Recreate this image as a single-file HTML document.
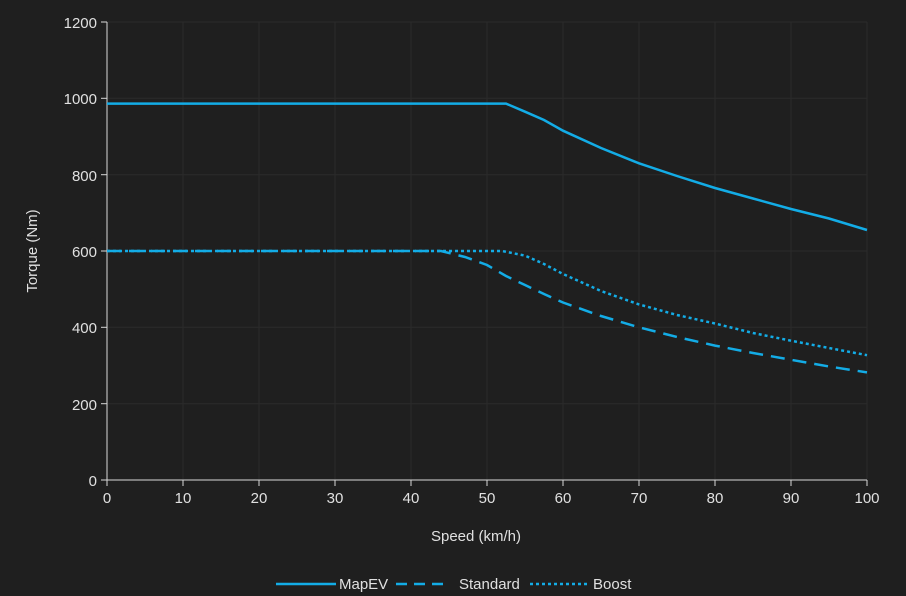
<!DOCTYPE html><html><head><style>body{margin:0;background:#1f1f1f}svg{display:block}text{font-family:"Liberation Sans",sans-serif;fill:#e0e0e0;font-size:15px}</style></head><body>
<svg width="906" height="596" viewBox="0 0 906 596">
<rect width="906" height="596" fill="#1f1f1f"/>
<g stroke="#2b2b2b" stroke-width="1">
<line x1="107" x2="867" y1="22" y2="22"/><line x1="107" x2="867" y1="98.3" y2="98.3"/><line x1="107" x2="867" y1="174.7" y2="174.7"/><line x1="107" x2="867" y1="251" y2="251"/><line x1="107" x2="867" y1="327.3" y2="327.3"/><line x1="107" x2="867" y1="403.7" y2="403.7"/>
<line x1="183" x2="183" y1="22" y2="480"/><line x1="259" x2="259" y1="22" y2="480"/><line x1="335" x2="335" y1="22" y2="480"/><line x1="411" x2="411" y1="22" y2="480"/><line x1="487" x2="487" y1="22" y2="480"/><line x1="563" x2="563" y1="22" y2="480"/><line x1="639" x2="639" y1="22" y2="480"/><line x1="715" x2="715" y1="22" y2="480"/><line x1="791" x2="791" y1="22" y2="480"/><line x1="867" x2="867" y1="22" y2="480"/>
</g>
<g stroke="#d8d8d8" stroke-width="1">
<line x1="107" x2="107" y1="22" y2="480"/><line x1="107" x2="867" y1="480" y2="480"/>
<line x1="101" x2="107" y1="22" y2="22"/><line x1="101" x2="107" y1="98.3" y2="98.3"/><line x1="101" x2="107" y1="174.7" y2="174.7"/><line x1="101" x2="107" y1="251" y2="251"/><line x1="101" x2="107" y1="327.3" y2="327.3"/><line x1="101" x2="107" y1="403.7" y2="403.7"/><line x1="101" x2="107" y1="480" y2="480"/>
<line x1="107" x2="107" y1="480" y2="486"/><line x1="183" x2="183" y1="480" y2="486"/><line x1="259" x2="259" y1="480" y2="486"/><line x1="335" x2="335" y1="480" y2="486"/><line x1="411" x2="411" y1="480" y2="486"/><line x1="487" x2="487" y1="480" y2="486"/><line x1="563" x2="563" y1="480" y2="486"/><line x1="639" x2="639" y1="480" y2="486"/><line x1="715" x2="715" y1="480" y2="486"/><line x1="791" x2="791" y1="480" y2="486"/><line x1="867" x2="867" y1="480" y2="486"/>
</g>
<g text-anchor="end" font-size="16.5">
<text x="97" y="28">1200</text><text x="97" y="104">1000</text><text x="97" y="181">800</text><text x="97" y="257">600</text><text x="97" y="333">400</text><text x="97" y="410">200</text><text x="97" y="486">0</text>
</g>
<g text-anchor="middle" font-size="16">
<text x="107" y="503">0</text><text x="183" y="503">10</text><text x="259" y="503">20</text><text x="335" y="503">30</text><text x="411" y="503">40</text><text x="487" y="503">50</text><text x="563" y="503">60</text><text x="639" y="503">70</text><text x="715" y="503">80</text><text x="791" y="503">90</text><text x="867" y="503">100</text>
<text x="476" y="541" font-size="16">Speed (km/h)</text>
<text transform="translate(37 251) rotate(-90)" font-size="16">Torque (Nm)</text>
</g>
<g fill="none" stroke="#13ace6" stroke-width="2.5">
<polyline points="107,103.6 506,103.6 525,111.7 544,120 563,130.7 601,148 639,163.3 677,176 715,188 753,198.5 791,209 829,218.5 867,230"/>
<polyline stroke-dasharray="14,8" points="107,251 441,251 465,257 487,265 506,276 525,285 544,294 563,302.5 601,316 639,327.3 677,337 715,345.6 753,353 791,359.8 829,366.5 867,372.4"/>
<polyline stroke-dasharray="3,3" points="107,251 502,251 525,255.6 544,264 563,274 601,291 639,304.4 677,315 715,323.5 753,333 791,340.7 829,348 867,355.2"/>
<line x1="276" x2="336" y1="584" y2="584"/>
<line x1="396" x2="450" y1="584" y2="584" stroke-dasharray="11,7"/>
<line x1="530" x2="587" y1="584" y2="584" stroke-dasharray="3,3"/>
</g>
<g font-size="14"><text x="339" y="589">MapEV</text><text x="459" y="589">Standard</text><text x="593" y="589">Boost</text></g>
</svg></body></html>
